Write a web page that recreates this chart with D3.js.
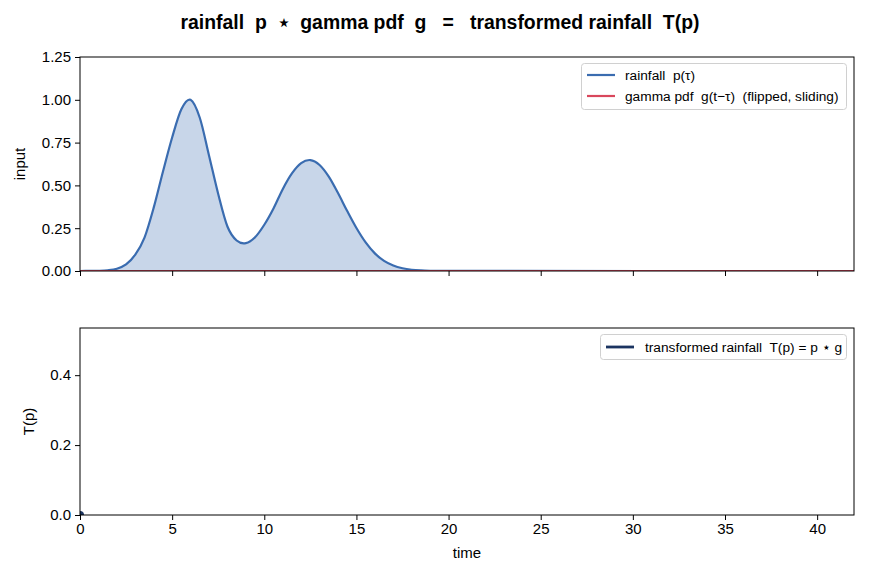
<!DOCTYPE html>
<html>
<head>
<meta charset="utf-8">
<script src="https://cdn.jsdelivr.net/npm/d3@7"></script>
<style>
  body { margin: 0; background: #fff; }
  svg { font-family: "Liberation Sans", Arial, sans-serif; }
  svg text { white-space: pre; }
</style>
</head>
<body>
<div id="chart"></div>
<script>
// rainfall p(tau)
const time = [0, 0.5, 1, 1.5, 2, 2.5, 3, 3.5, 4, 4.5, 5, 5.5, 6, 6.5, 7, 7.5, 8, 8.5, 9, 9.5,
  10, 10.5, 11, 11.5, 12, 12.5, 13, 13.5, 14, 14.5, 15, 15.5, 16, 16.5, 17, 17.5, 18, 18.5, 19, 19.5, 20, 42]
const rainfall = [0.0001, 0.0003, 0.001, 0.004, 0.013, 0.038, 0.095, 0.195, 0.37, 0.58, 0.78, 0.945, 1.0, 0.895, 0.675, 0.45, 0.26, 0.178, 0.163, 0.197,
  0.27, 0.365, 0.478, 0.57, 0.63, 0.648, 0.619, 0.551, 0.455, 0.35, 0.251, 0.167, 0.103, 0.059, 0.032, 0.016, 0.0073, 0.0032, 0.0013, 0.0005, 0.0002, 0]
// flipped gamma pdf at t = 0: zero everywhere on tau > 0
const gammaTime = [0, 42]
const gammaValues = [0, 0]
// transformed rainfall so far (only t = 0)
const outTime = [0]
const outValues = [0]

const xTicks = [0, 5, 10, 15, 20, 25, 30, 35, 40]
const topTicks = [0, 0.25, 0.5, 0.75, 1.0, 1.25]
const bottomTicks = [0, 0.2, 0.4]

const width = 880, height = 572
const left = 80, right = 854
const top1 = 57, bottom1 = 271
const top2 = 328, bottom2 = 515

const blue = "#3a6cb0", red = "#d9475c", navy = "#1b3461"

const svg = d3.select("#chart").append("svg")
  .attr("width", width).attr("height", height)

const x = d3.scaleLinear().domain([0, 42]).range([left, right])
const y1 = d3.scaleLinear().domain([0, 1.25]).range([bottom1, top1])
const y2 = d3.scaleLinear().domain([0, 0.535]).range([bottom2, top2])
const smooth = d3.curveCardinal.tension(0)

svg.append("text")
  .attr("x", 440).attr("y", 29)
  .attr("text-anchor", "middle")
  .style("font-size", "19.4px").style("font-weight", "bold")
  .text("rainfall  p  \u22c6  gamma pdf  g   =   transformed rainfall  T(p)")

function styleAxis(g) {
  g.selectAll("text").style("font-size", "15px").attr("fill", "#000")
  g.selectAll("line").attr("stroke", "#000")
  g.select(".domain").remove()
}

// --- top panel ---
svg.append("clipPath").attr("id", "clip1").append("rect")
  .attr("x", left).attr("y", top1).attr("width", right - left).attr("height", bottom1 - top1)
const p1 = svg.append("g").attr("clip-path", "url(#clip1)")
const pts = time.map((t, i) => [t, rainfall[i]])

p1.append("path")
  .datum(pts)
  .attr("fill", blue).attr("fill-opacity", 0.28)
  .attr("d", d3.area().x(d => x(d[0])).y0(y1(0)).y1(d => y1(d[1])).curve(smooth))

p1.append("path")
  .datum(pts)
  .attr("fill", "none").attr("stroke", blue).attr("stroke-width", 2.2)
  .attr("d", d3.line().x(d => x(d[0])).y(d => y1(d[1])).curve(smooth))

p1.append("path")
  .datum(gammaTime.map((t, i) => [t, gammaValues[i]]))
  .attr("fill", "none").attr("stroke", red).attr("stroke-width", 2)
  .attr("d", d3.line().x(d => x(d[0])).y(d => y1(d[1])))

svg.append("g").attr("transform", `translate(0,${bottom1})`)
  .call(d3.axisBottom(x).tickValues(xTicks).tickFormat("").tickSize(5))
  .call(styleAxis)
svg.append("g").attr("transform", `translate(${left},0)`)
  .call(d3.axisLeft(y1).tickValues(topTicks).tickFormat(d3.format(".2f")).tickSize(5).tickPadding(4))
  .call(styleAxis)
svg.append("rect")
  .attr("x", left).attr("y", top1).attr("width", right - left).attr("height", bottom1 - top1)
  .attr("fill", "none").attr("stroke", "#000").attr("stroke-width", 1)

svg.append("text")
  .attr("transform", `translate(25,${(top1 + bottom1) / 2}) rotate(-90)`)
  .attr("text-anchor", "middle").style("font-size", "15px").text("input")

// top legend
const lg1 = svg.append("g")
lg1.append("rect").attr("x", 581.5).attr("y", 63.5).attr("width", 265).attr("height", 46)
  .attr("rx", 3).attr("fill", "#fff").attr("fill-opacity", 0.8).attr("stroke", "#d0d0d0")
const legend1 = [["rainfall  p(\u03c4)", blue], ["gamma pdf  g(t\u2212\u03c4)  (flipped, sliding)", red]]
legend1.forEach((d, i) => {
  const yy = 75 + i * 21
  lg1.append("line").attr("x1", 587).attr("x2", 615).attr("y1", yy).attr("y2", yy)
    .attr("stroke", d[1]).attr("stroke-width", 2.2)
  lg1.append("text").attr("x", 625).attr("y", yy + 5).style("font-size", "13.7px").text(d[0])
})

// --- bottom panel ---
svg.append("g").attr("transform", `translate(0,${bottom2})`)
  .call(d3.axisBottom(x).tickValues(xTicks).tickSize(5).tickPadding(3))
  .call(styleAxis)
svg.append("g").attr("transform", `translate(${left},0)`)
  .call(d3.axisLeft(y2).tickValues(bottomTicks).tickFormat(d3.format(".1f")).tickSize(5).tickPadding(4))
  .call(styleAxis)

svg.append("clipPath").attr("id", "clip2").append("rect")
  .attr("x", left).attr("y", top2).attr("width", right - left).attr("height", bottom2 - top2)
const p2 = svg.append("g").attr("clip-path", "url(#clip2)")
p2.selectAll("circle").data(outTime.map((t, i) => [t, outValues[i]])).enter()
  .append("circle")
  .attr("cx", d => x(d[0])).attr("cy", d => y2(d[1])).attr("r", 4)
  .attr("fill", navy)

svg.append("rect")
  .attr("x", left).attr("y", top2).attr("width", right - left).attr("height", bottom2 - top2)
  .attr("fill", "none").attr("stroke", "#000").attr("stroke-width", 1)

svg.append("text")
  .attr("transform", `translate(34,${(top2 + bottom2) / 2}) rotate(-90)`)
  .attr("text-anchor", "middle").style("font-size", "15px").text("T(p)")
svg.append("text")
  .attr("x", (left + right) / 2).attr("y", 558)
  .attr("text-anchor", "middle").style("font-size", "15px").text("time")

// bottom legend
const lg2 = svg.append("g")
lg2.append("rect").attr("x", 600.5).attr("y", 334.5).attr("width", 246).attr("height", 25)
  .attr("rx", 3).attr("fill", "#fff").attr("fill-opacity", 0.8).attr("stroke", "#d0d0d0")
lg2.append("line").attr("x1", 606).attr("x2", 634).attr("y1", 347).attr("y2", 347)
  .attr("stroke", navy).attr("stroke-width", 2.8)
lg2.append("text").attr("x", 645).attr("y", 352).style("font-size", "13.7px")
  .text("transformed rainfall  T(p) = p \u22c6 g")
</script>
</body>
</html>
